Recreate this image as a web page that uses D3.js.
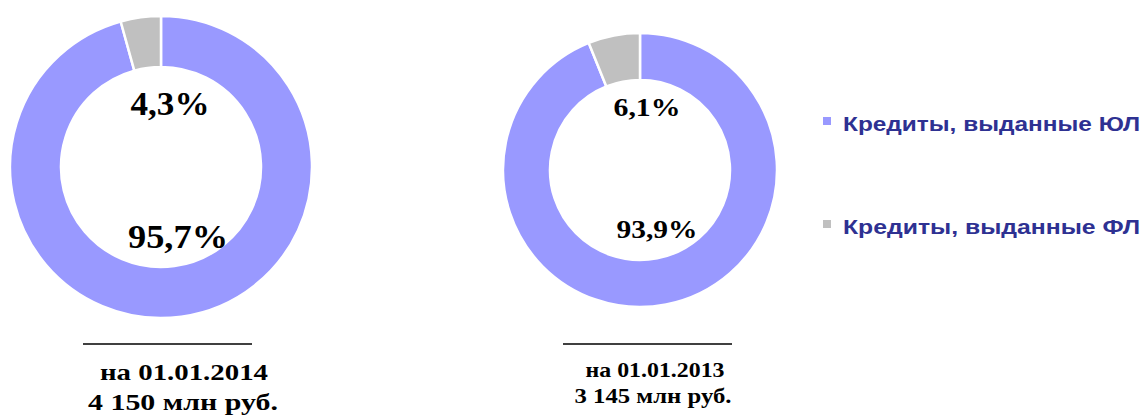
<!DOCTYPE html>
<html>
<head>
<meta charset="utf-8">
<script src="https://cdn.jsdelivr.net/npm/d3@7"></script>
<style>
  body { margin: 0; background: #fff; }
  svg { display: block; }
</style>
</head>
<body>
<svg id="chart"></svg>
<script>
// Data
var categories = ["Кредиты, выданные ЮЛ", "Кредиты, выданные ФЛ"];
var values2014 = [95.7, 4.3];
var values2013 = [93.9, 6.1];
var dates = ["на 01.01.2014", "на 01.01.2013"];
var totals = ["4 150 млн руб.", "3 145 млн руб."];
var colors = ["#9999ff", "#c0c0c0"];

var W = 1144, H = 419;
var svg = d3.select("#chart").attr("width", W).attr("height", H);

var color = d3.scaleOrdinal().domain(categories).range(colors);
var pie = d3.pie().sort(null).value(d => d.value);
var pct = v => d3.format(".1f")(v).replace(".", ",") + "%";

var serif = "'Liberation Serif', 'Times New Roman', serif";

// one donut per date
var donuts = [
  { values: values2014, date: dates[0], total: totals[0], cx: 161, cy: 167, r: 151, ri: 100,
    labelSize: 34, labels: [{x: 170, y: 115, w: 79}, {x: 178, y: 248, w: 100}],
    capSize: 23, caps: [{x: 184, y: 380, w: 168}, {x: 183, y: 410, w: 190}], lineX: [83, 252] },
  { values: values2013, date: dates[1], total: totals[1], cx: 640, cy: 170, r: 137, ri: 90,
    labelSize: 25, labels: [{x: 647, y: 116, w: 67}, {x: 657, y: 238, w: 81}],
    capSize: 22, caps: [{x: 655, y: 377, w: 139}, {x: 653, y: 403, w: 157}], lineX: [563, 732] }
];

donuts.forEach(dn => {
  var data = categories.map((c, i) => ({ name: c, value: dn.values[i] }));
  var arc = d3.arc().innerRadius(dn.ri).outerRadius(dn.r);
  var g = svg.append("g").attr("transform", `translate(${dn.cx},${dn.cy})`);

  g.selectAll("path")
    .data(pie(data))
    .enter().append("path")
    .attr("d", arc)
    .attr("fill", d => color(d.data.name))
    .attr("stroke", "#fff")
    .attr("stroke-width", 2.5);

  // percentage labels (gray share on top, blue share below)
  [data[1], data[0]].forEach((d, i) => {
    var p = dn.labels[i];
    svg.append("text")
      .attr("x", p.x)
      .attr("y", p.y)
      .attr("text-anchor", "middle")
      .attr("textLength", p.w)
      .attr("lengthAdjust", "spacingAndGlyphs")
      .style("font-family", serif)
      .style("font-weight", "bold")
      .style("font-size", dn.labelSize + "px")
      .text(pct(d.value));
  });

  svg.append("line")
    .attr("x1", dn.lineX[0]).attr("x2", dn.lineX[1])
    .attr("y1", 344).attr("y2", 344)
    .attr("stroke", "#000").attr("stroke-width", 1.5);

  [dn.date, dn.total].forEach((t, i) => {
    var p = dn.caps[i];
    svg.append("text")
      .attr("x", p.x)
      .attr("y", p.y)
      .attr("text-anchor", "middle")
      .attr("textLength", p.w)
      .attr("lengthAdjust", "spacingAndGlyphs")
      .style("font-family", serif)
      .style("font-weight", "bold")
      .style("font-size", dn.capSize + "px")
      .text(t);
  });
});

// Legend
var legend = svg.selectAll(".legend")
  .data(categories)
  .enter().append("g")
  .attr("class", "legend")
  .attr("transform", (d, i) => `translate(823,${117 + i * 103})`);

legend.append("rect")
  .attr("width", 8).attr("height", 8)
  .attr("fill", d => color(d));

legend.append("text")
  .attr("x", 20)
  .attr("y", 14)
  .attr("textLength", 297)
  .attr("lengthAdjust", "spacingAndGlyphs")
  .style("font-family", "'Liberation Sans', Arial, sans-serif")
  .style("font-weight", "bold")
  .style("font-size", "21px")
  .attr("fill", "#2e3192")
  .text(d => d);
</script>
</body>
</html>
